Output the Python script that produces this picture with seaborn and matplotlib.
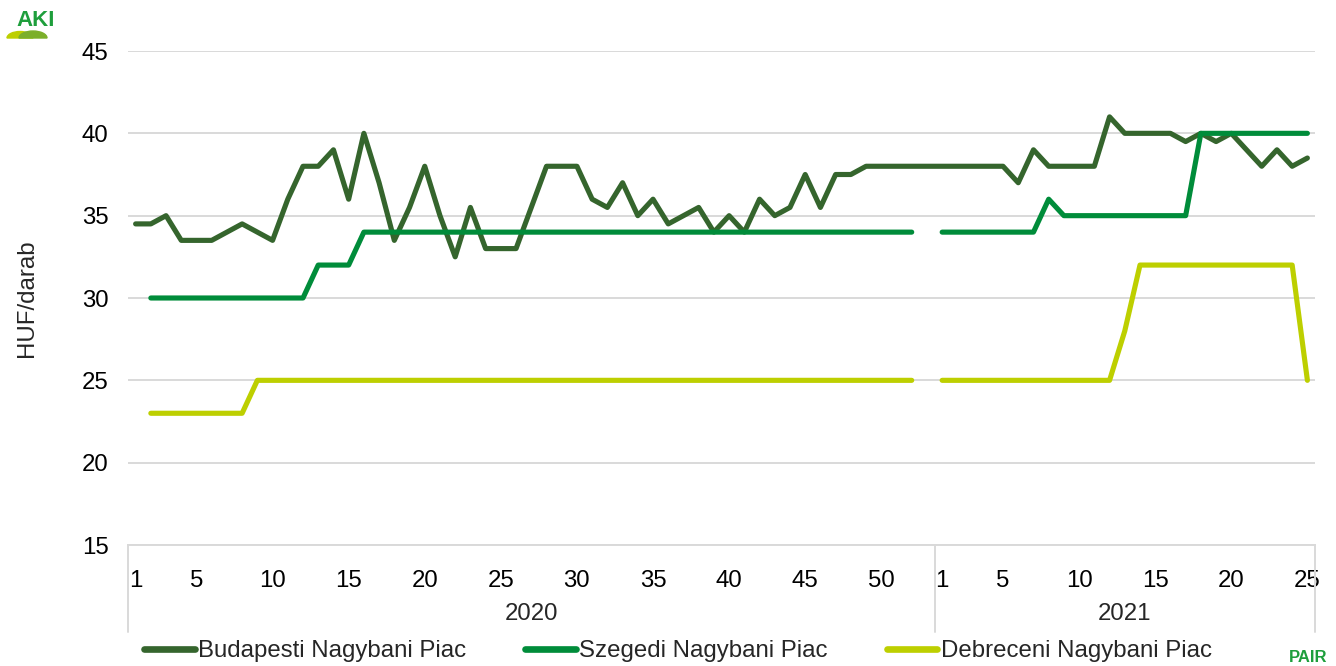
import numpy as np
import pandas as pd
import matplotlib
matplotlib.use("Agg")
import matplotlib.pyplot as plt
from matplotlib.lines import Line2D
from matplotlib.patches import Wedge
import seaborn as sns

# ---------------- data ----------------
weeks_2020 = list(range(1, 54))
weeks_2021 = list(range(1, 26))
tick_weeks_2020 = [1, 5, 10, 15, 20, 25, 30, 35, 40, 45, 50]
tick_weeks_2021 = [1, 5, 10, 15, 20, 25]
years = ["2020", "2021"]
series_names = ["Budapesti Nagybani Piac", "Szegedi Nagybani Piac", "Debreceni Nagybani Piac"]

nan = np.nan
budapest_2020 = [34.5, 34.5, 35, 33.5, 33.5, 33.5, 34, 34.5, 34, 33.5,
                 36, 38, 38, 39, 36, 40, 37, 33.5, 35.5, 38,
                 35, 32.5, 35.5, 33, 33, 33, 35.5, 38, 38, 38,
                 36, 35.5, 37, 35, 36, 34.5, 35, 35.5, 34, 35,
                 34, 36, 35, 35.5, 37.5, 35.5, 37.5, 37.5, 38, 38,
                 38, 38, 38]
budapest_2021 = [38, 38, 38, 38, 38, 37, 39, 38, 38, 38,
                 38, 41, 40, 40, 40, 40, 39.5, 40, 39.5, 40,
                 39, 38, 39, 38, 38.5]
szeged_2020 = [nan, 30, 30, 30, 30, 30, 30, 30, 30, 30,
               30, 30, 32, 32, 32, 34, 34, 34, 34, 34,
               34, 34, 34, 34, 34, 34, 34, 34, 34, 34,
               34, 34, 34, 34, 34, 34, 34, 34, 34, 34,
               34, 34, 34, 34, 34, 34, 34, 34, 34, 34,
               34, 34, nan]
szeged_2021 = [34, 34, 34, 34, 34, 34, 34, 36, 35, 35,
               35, 35, 35, 35, 35, 35, 35, 40, 40, 40,
               40, 40, 40, 40, 40]
debrecen_2020 = [nan, 23, 23, 23, 23, 23, 23, 23, 25, 25,
                 25, 25, 25, 25, 25, 25, 25, 25, 25, 25,
                 25, 25, 25, 25, 25, 25, 25, 25, 25, 25,
                 25, 25, 25, 25, 25, 25, 25, 25, 25, 25,
                 25, 25, 25, 25, 25, 25, 25, 25, 25, 25,
                 25, 25, nan]
debrecen_2021 = [25, 25, 25, 25, 25, 25, 25, 25, 25, 25,
                 25, 25, 28, 32, 32, 32, 32, 32, 32, 32,
                 32, 32, 32, 32, 25]

colors = ["#35652D", "#008C3A", "#BDCF00"]

# ---------------- build long frame ----------------
rows = []
all_series = [budapest_2020 + budapest_2021,
              szeged_2020 + szeged_2021,
              debrecen_2020 + debrecen_2021]
for name, vals in zip(series_names, all_series):
    seg = 0
    for pos, v in enumerate(vals):
        if np.isnan(v):
            seg += 1
            continue
        rows.append({"pos": pos, "value": v, "series": name, "seg": f"{name}-{seg}"})
df = pd.DataFrame(rows)

n_cat = len(weeks_2020) + len(weeks_2021)

# ---------------- style ----------------
sns.set_style("white")
plt.rcParams["font.family"] = ["Liberation Sans", "DejaVu Sans"]
FS = 17.3

W, H = 1336, 666
fig = plt.figure(figsize=(W / 100, H / 100), dpi=100)
x0, x1, y0, y1 = 128, 1315, 51, 545
ax = fig.add_axes([x0 / W, 1 - y1 / H, (x1 - x0) / W, (y1 - y0) / H])

sns.lineplot(data=df, x="pos", y="value", hue="series", hue_order=series_names,
             units="seg", estimator=None, sort=False, palette=colors,
             linewidth=3.7, ax=ax, solid_capstyle="round", solid_joinstyle="round")

ax.set_xlim(-0.5, n_cat - 0.5)
ax.set_ylim(15, 45)
ax.set_yticks([15, 20, 25, 30, 35, 40, 45])
ax.set_yticklabels(["15", "20", "25", "30", "35", "40", "45"], fontsize=FS)

tick_pos = [w - 1 for w in tick_weeks_2020] + [len(weeks_2020) + w - 1 for w in tick_weeks_2021]
tick_lab = [str(w) for w in tick_weeks_2020] + [str(w) for w in tick_weeks_2021]
ax.set_xticks(tick_pos)
ax.set_xticklabels(tick_lab, fontsize=FS)
ax.tick_params(axis="x", length=0, pad=18, colors="#000000")
ax.tick_params(axis="y", length=0, pad=14, colors="#000000")
ax.set_xlabel("")
ax.set_ylabel("")

ax.yaxis.grid(True, color="#D9D9D9", linewidth=1.4)
ax.xaxis.grid(False)
ax.set_axisbelow(True)
for s in ["left", "right", "top"]:
    ax.spines[s].set_visible(False)
ax.spines["bottom"].set_color("#D9D9D9")
ax.spines["bottom"].set_linewidth(1.4)

# multi-level category separators and year labels
trans = ax.get_xaxis_transform()
sep_bottom = -(632 - y1) / (y1 - y0)
for xs in [-0.5, len(weeks_2020) - 0.5, n_cat - 0.5]:
    ax.add_line(Line2D([xs, xs], [0, sep_bottom], transform=trans, color="#D9D9D9",
                       linewidth=1.4, clip_on=False))
year_y = -(614 - y1) / (y1 - y0)
ax.text((-0.5 + len(weeks_2020) - 0.5) / 2, year_y, years[0], transform=trans,
        ha="center", va="center", fontsize=FS)
ax.text((len(weeks_2020) - 0.5 + n_cat - 0.5) / 2, year_y, years[1], transform=trans,
        ha="center", va="center", fontsize=FS)

fig.text(27 / W, 1 - 298 / H, "HUF/darab", rotation=90, ha="center", va="center", fontsize=FS)

# legend
if ax.get_legend() is not None:
    ax.get_legend().remove()
leg_handles = [Line2D([0], [0], color=c, linewidth=4.8, solid_capstyle="round") for c in colors]
fig.legend(leg_handles, series_names, loc="center", bbox_to_anchor=(678 / W, 1 - 651 / H),
           ncol=3, frameon=False, handlelength=2.1, handletextpad=0.15, columnspacing=2.45,
           fontsize=FS)

# logos (approximations)
fig.patches.append(Wedge((20 / W, 1 - 38 / H), 13 / W, 0, 180, color="#BDCF00",
                         transform=fig.transFigure, figure=fig))
fig.patches.append(Wedge((33 / W, 1 - 38 / H), 14 / W, 0, 180, color="#7BAF2A",
                         transform=fig.transFigure, figure=fig))
fig.text(36 / W, 1 - 21 / H, "AKI", color="#1E9E3C", fontweight="bold", fontsize=16,
         ha="center", va="center")
fig.text(1308 / W, 1 - 657 / H, "PAIR", color="#1E9E3C", fontweight="bold", fontsize=12,
         ha="center", va="center")

fig.savefig("out.png", dpi=100)
